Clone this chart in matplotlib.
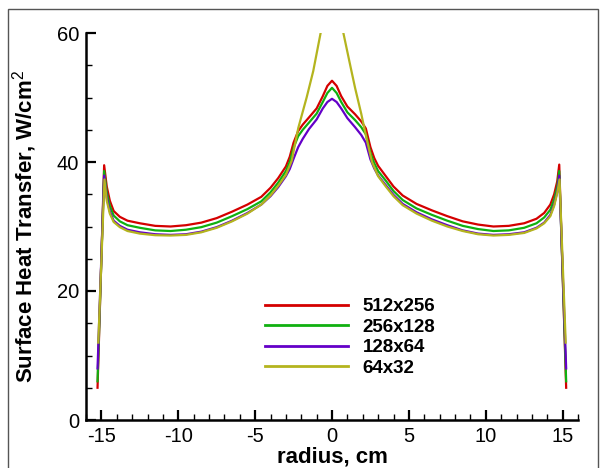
import matplotlib
matplotlib.use("Agg")
import matplotlib.pyplot as plt
from matplotlib.ticker import MultipleLocator
from matplotlib.patches import Rectangle

plt.rcParams['font.family'] = ['Liberation Sans', 'DejaVu Sans']
plt.rcParams['axes.unicode_minus'] = False
plt.rcParams['mathtext.fontset'] = 'custom'
plt.rcParams['mathtext.rm'] = 'Liberation Sans'
plt.rcParams['mathtext.bf'] = 'Liberation Sans:bold'

# radius grid shared by the fine meshes, cm
radius = [-15.25, -14.82, -14.65, -14.45, -14.2, -13.8, -13.3, -12.5, -11.5, -10.5,
          -9.5, -8.5, -7.5, -6.5, -5.5, -4.6, -4.0, -3.5, -3.0, -2.75,
          -2.5, -2.2, -1.9, -1.5, -1.0, -0.6, -0.3, 0.0,
          0.3, 0.6, 1.0, 1.5, 1.9, 2.2, 2.5, 2.75, 3.0, 3.5,
          4.0, 4.6, 5.5, 6.5, 7.5, 8.5, 9.5, 10.5, 11.5, 12.5,
          13.3, 13.8, 14.2, 14.45, 14.65, 14.78, 15.23]

q_512 = [5.0, 39.5, 36.2, 34.0, 32.4, 31.5, 30.9, 30.5, 30.1, 30.0,
         30.2, 30.6, 31.3, 32.3, 33.4, 34.6, 36.0, 37.5, 39.3, 40.8,
         43.0, 44.8, 45.8, 46.9, 48.3, 50.2, 51.8, 52.6,
         51.8, 50.2, 48.6, 47.4, 46.3, 45.2, 42.3, 40.6, 39.4, 37.8,
         36.2, 34.8, 33.5, 32.5, 31.6, 30.8, 30.3, 30.0, 30.1, 30.5,
         31.2, 32.1, 33.4, 35.0, 37.0, 39.6, 5.0]

q_256 = [6.0, 38.6, 35.3, 33.2, 31.7, 30.8, 30.2, 29.8, 29.4, 29.3,
         29.5, 29.9, 30.6, 31.6, 32.7, 33.9, 35.3, 36.8, 38.6, 40.0,
         42.2, 44.0, 45.0, 46.1, 47.5, 49.3, 50.7, 51.5,
         50.7, 49.3, 47.7, 46.5, 45.4, 44.3, 41.4, 39.8, 38.6, 37.1,
         35.5, 34.1, 32.8, 31.8, 30.9, 30.1, 29.6, 29.3, 29.4, 29.8,
         30.5, 31.4, 32.6, 34.2, 36.2, 38.6, 6.0]

q_128 = [8.0, 37.9, 34.5, 32.3, 30.9, 30.1, 29.5, 29.1, 28.8, 28.7,
         28.8, 29.2, 29.9, 30.9, 32.1, 33.4, 34.7, 36.1, 37.8, 38.9,
         40.5, 42.3, 43.6, 45.1, 46.6, 48.3, 49.3, 49.8,
         49.3, 48.3, 46.8, 45.4, 44.2, 43.0, 40.4, 39.0, 37.9, 36.4,
         34.9, 33.5, 32.2, 31.1, 30.2, 29.4, 28.9, 28.7, 28.8, 29.1,
         29.8, 30.6, 31.8, 33.4, 35.4, 37.9, 8.0]

# coarse mesh has its own points near the centre
radius_64 = [-15.2, -14.8, -14.65, -14.45, -14.2, -13.8, -13.3, -12.5, -11.5, -10.5,
             -9.5, -8.5, -7.5, -6.5, -5.5, -4.6, -4.0, -3.5, -3.0, -2.62,
             -2.19, -1.65, -1.22, -0.74, 0.0, 0.74, 1.22, 1.5, 1.9, 2.26,
             2.6, 3.0, 3.5, 4.0, 4.6, 5.5, 6.5, 7.5, 8.5, 9.5,
             10.5, 11.5, 12.5, 13.3, 13.8, 14.2, 14.45, 14.65, 14.8, 15.2]

q_64 = [12.0, 37.3, 34.0, 32.0, 30.7, 29.9, 29.3, 28.9, 28.65, 28.6,
        28.7, 29.1, 29.8, 30.8, 32.0, 33.4, 34.8, 36.3, 38.0, 40.2,
        45.3, 50.0, 54.1, 60.0, 68.0, 60.0, 54.6, 51.5, 47.5, 43.5,
        40.0, 37.8, 36.2, 34.7, 33.3, 32.0, 30.9, 30.0, 29.3, 28.8,
        28.6, 28.7, 29.0, 29.7, 30.5, 31.6, 33.2, 35.2, 37.3, 12.0]

labels = ['512x256', '256x128', '128x64', '64x32']
colors = ['#d40000', '#10b010', '#6400c8', '#b4b41e']

fig = plt.figure(figsize=(6.0, 4.68), dpi=100)
ax = fig.add_axes([86/600, 1-420/468, 492/600, 387/468])

series = [(radius, q_512), (radius, q_256), (radius, q_128), (radius_64, q_64)]
for (xs, ys), lab, col in zip(series, labels, colors):
    ax.plot(xs, ys, color=col, lw=1.6, label=lab, solid_joinstyle='round')

ax.set_xlim(-16, 16)
ax.set_ylim(0, 60)
ax.xaxis.set_major_locator(MultipleLocator(5))
ax.xaxis.set_minor_locator(MultipleLocator(1))
ax.yaxis.set_major_locator(MultipleLocator(20))
ax.yaxis.set_minor_locator(MultipleLocator(5))
ax.set_xticks([-15, -10, -5, 0, 5, 10, 15])

for s in ['top', 'right']:
    ax.spines[s].set_visible(False)
for s in ['left', 'bottom']:
    ax.spines[s].set_linewidth(1.8)

ax.tick_params(which='major', direction='in', length=7, width=1.6,
               labelsize=14.5, pad=5)
ax.tick_params(which='minor', direction='in', length=4, width=1.0)

ax.set_xlabel('radius, cm', fontsize=16, fontweight='bold')
ax.set_ylabel('Surface Heat Transfer, W/cm$^{\\mathrm{2}}$', fontsize=16, fontweight='bold')
ax.xaxis.set_label_coords(0.5, -0.068)
ax.yaxis.set_label_coords(-0.095, 0.5)

leg = ax.legend(loc='upper left', bbox_to_anchor=(265/600, 1-298/468),
                bbox_transform=fig.transFigure, frameon=False,
                prop={'weight': 'bold', 'size': 13.5},
                handlelength=4.4, handletextpad=0.8, labelspacing=0.18,
                borderpad=0, borderaxespad=0)
for ln in leg.get_lines():
    ln.set_linewidth(2.0)

fig.patches.append(Rectangle((8/600, -0.1), 590/600, 1.1 - 9/468,
                             transform=fig.transFigure, fill=False,
                             edgecolor='#555555', lw=1.0))

fig.savefig('out.png', dpi=100)
